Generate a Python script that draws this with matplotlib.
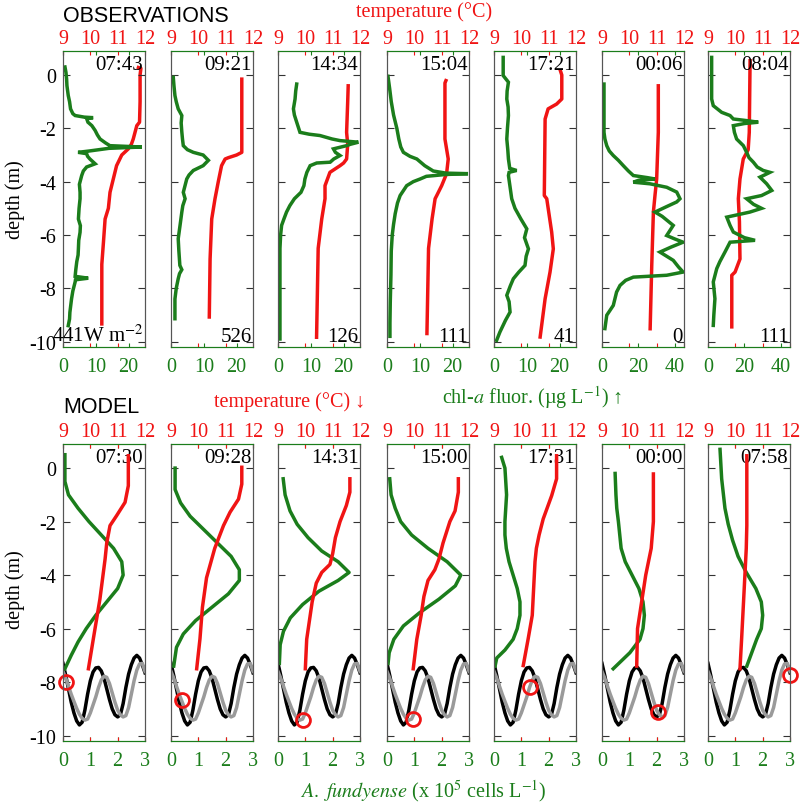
import matplotlib
matplotlib.use('Agg')
import matplotlib.pyplot as plt

plt.rcParams['font.family'] = ['Liberation Serif', 'DejaVu Serif']
plt.rcParams['mathtext.fontset'] = 'stix'
plt.rcParams['axes.unicode_minus'] = False

GREEN = '#1b7d1b'
RED = '#f01414'
SPINE = '#555555'

# ---------------- data ----------------
obs_times = ['07:43', '09:21', '14:34', '15:04', '17:21', '00:06', '08:04']
obs_irr = ['441W m$^{-2}$', '526', '126', '111', '41', '0', '111']
model_times = ['07:30', '09:28', '14:31', '15:00', '17:31', '00:00', '07:58']
chl_max = [25, 25, 25, 25, 25, 45, 45]
chl_ticks = [[0, 10, 20]] * 5 + [[0, 20, 40]] * 2
temp_ticks = [9, 10, 11, 12]
depth_ticks = [0, -2, -4, -6, -8, -10]
cell_ticks = [0, 1, 2, 3]

# observed chl-a (depth m, ug/L)
obs1_chl = [(0.3,0.6),(0.1,0.9),(-0.15,1.1),(-0.4,1.2),(-0.77,1.6),(-1.0,2.0),(-1.27,2.3),(-1.45,3.0),(-1.52,3.7),(-1.58,6.5),(-1.6,9.2),(-1.63,7.2),(-1.77,7.6),(-1.9,8.8),(-2.08,9.8),(-2.25,10.5),(-2.4,11.3),(-2.55,13.0),(-2.65,14.3),(-2.7,24.0),(-2.75,14.0),(-2.85,8.0),(-2.9,4.6),(-2.95,7.2),(-3.05,7.5),(-3.15,8.2),(-3.33,9.8),(-3.45,7.2),(-3.6,6.2),(-3.77,5.7),(-4.1,5.0),(-4.4,5.2),(-4.64,5.2),(-5.0,4.9),(-5.4,4.7),(-5.65,5.3),(-5.9,5.2),(-6.2,4.8),(-6.5,4.7),(-6.75,4.6),(-7.0,4.2),(-7.3,3.9),(-7.55,3.7),(-7.62,7.7),(-7.68,3.8),(-7.76,3.7),(-8.1,3.0),(-8.4,2.6),(-8.9,2.1),(-9.15,2.0),(-9.4,1.6)]
obs2_chl = [(-0.09,0.7),(-0.4,0.9),(-0.77,1.2),(-1.0,1.6),(-1.27,2.2),(-1.52,3.3),(-1.8,3.1),(-2.14,3.3),(-2.4,3.5),(-2.65,3.75),(-2.8,5.0),(-2.9,6.8),(-3.0,9.8),(-3.2,11.4),(-3.4,9.8),(-3.58,6.8),(-3.75,5.5),(-3.9,4.8),(-4.4,3.75),(-4.64,4.3),(-4.9,3.6),(-5.14,3.3),(-5.6,2.8),(-6.14,2.2),(-6.6,2.4),(-7.14,2.7),(-7.3,3.3),(-7.45,2.6),(-7.64,2.2),(-8.0,1.6),(-8.4,1.2),(-9.14,1.2)]
obs3_chl = [(-0.34,5.7),(-0.6,5.4),(-0.9,5.2),(-1.27,4.7),(-1.5,5.0),(-1.77,5.7),(-2.15,6.7),(-2.22,9.5),(-2.27,12.8),(-2.4,16.5),(-2.46,18.9),(-2.52,24.5),(-2.6,22.0),(-2.65,20.9),(-2.77,16.9),(-2.9,17.5),(-3.02,18.9),(-3.15,17.0),(-3.27,15.9),(-3.3,11.8),(-3.4,9.8),(-3.65,8.8),(-3.9,8.2),(-4.15,7.9),(-4.4,7.0),(-4.64,5.0),(-4.9,3.6),(-5.14,2.6),(-5.4,1.8),(-5.64,1.1),(-6.0,0.8),(-6.5,0.6),(-8.0,0.6),(-9.9,0.6)]
obs4_chl = [(-0.05,0.3),(-0.5,0.8),(-1.0,1.3),(-1.5,2.0),(-2.0,3.0),(-2.4,3.6),(-2.7,4.2),(-2.9,5.0),(-3.05,7.0),(-3.15,9.1),(-3.4,11.5),(-3.6,14.1),(-3.68,18.0),(-3.7,24.7),(-3.73,18.0),(-3.8,12.0),(-3.9,10.1),(-4.0,8.0),(-4.15,6.0),(-4.52,4.0),(-4.8,3.2),(-5.2,2.5),(-5.6,2.0),(-6.0,1.6),(-6.6,1.3),(-7.5,1.2),(-8.5,1.0),(-9.3,0.9),(-9.8,0.9)]
obs5_chl = [(0.66,2.8),(0.3,2.8),(-0.02,2.8),(-0.27,4.4),(-0.6,4.0),(-0.9,3.9),(-1.2,4.3),(-1.52,4.4),(-2.0,4.1),(-2.4,3.9),(-2.8,4.2),(-3.15,4.4),(-3.5,4.8),(-3.58,6.9),(-3.65,4.6),(-3.77,4.4),(-4.2,4.9),(-4.64,5.4),(-5.0,6.4),(-5.4,8.2),(-5.77,10.0),(-6.1,9.3),(-6.52,10.5),(-6.8,9.8),(-7.14,9.45),(-7.4,7.5),(-7.64,5.9),(-7.9,5.0),(-8.26,3.9),(-8.5,4.6),(-8.89,4.9),(-9.2,3.5),(-9.64,1.8),(-9.95,0.8)]
obs6_chl = [(-0.34,1.1),(-1.0,1.1),(-2.15,1.1),(-2.4,1.6),(-2.65,2.6),(-2.85,4.0),(-3.02,6.2),(-3.2,9.0),(-3.4,11.7),(-3.6,14.5),(-3.77,17.2),(-3.85,25.0),(-3.9,29.1),(-3.95,20.0),(-4.02,17.2),(-4.08,26.3),(-4.21,35.5),(-4.39,41.0),(-4.64,42.8),(-4.76,41.0),(-4.95,35.0),(-5.14,29.1),(-5.3,33.0),(-5.64,39.1),(-6.02,35.5),(-6.15,40.0),(-6.27,44.5),(-6.45,38.0),(-6.64,31.8),(-6.95,39.1),(-7.2,42.0),(-7.39,44.5),(-7.51,35.5),(-7.58,17.2),(-7.7,13.0),(-7.89,9.9),(-8.14,8.0),(-8.64,6.2),(-9.01,2.6),(-9.51,1.6)]
obs7_chl = [(0.66,2.0),(0.0,2.0),(-0.9,2.0),(-1.15,2.9),(-1.4,7.5),(-1.52,12.1),(-1.65,13.9),(-1.7,20.0),(-1.77,27.6),(-1.82,20.0),(-1.9,13.9),(-2.15,14.5),(-2.4,15.7),(-2.65,19.4),(-2.9,21.2),(-3.1,22.5),(-3.27,24.9),(-3.45,27.0),(-3.58,30.3),(-3.65,34.0),(-3.75,31.0),(-3.83,28.5),(-4.08,32.2),(-4.33,35.0),(-4.52,29.4),(-4.64,21.2),(-4.85,25.0),(-5.0,29.4),(-5.14,23.0),(-5.33,10.3),(-5.64,12.1),(-5.89,13.9),(-6.1,20.0),(-6.2,25.8),(-6.27,12.1),(-6.64,9.3),(-7.0,6.5),(-7.26,4.8),(-7.76,2.9),(-8.39,3.8),(-9.0,3.2),(-9.39,2.9)]

# observed temperature (depth m, deg C)
obs1_temp = [(0.3,11.70),(0.25,11.85),(0.0,11.82),(-1.0,11.82),(-1.77,11.80),(-1.9,11.70),(-2.4,11.57),(-2.6,11.50),(-2.77,11.39),(-3.0,11.15),(-3.4,10.96),(-3.9,10.84),(-4.4,10.72),(-5.0,10.66),(-5.4,10.54),(-6.27,10.48),(-7.1,10.42),(-9.4,10.42)]
obs2_temp = [(-0.09,11.59),(-2.9,11.59),(-3.0,11.40),(-3.1,11.10),(-3.15,10.98),(-3.4,10.85),(-4.0,10.73),(-4.64,10.61),(-5.4,10.49),(-6.9,10.43),(-9.14,10.40)]
obs3_temp = [(-0.34,11.57),(-1.0,11.55),(-2.15,11.51),(-2.6,11.55),(-3.15,11.51),(-3.3,11.40),(-3.4,11.27),(-3.65,10.90),(-4.15,10.72),(-4.64,10.72),(-5.4,10.60),(-6.5,10.47),(-9.9,10.41)]
obs4_temp = [(-0.15,11.18),(-0.3,11.12),(-2.4,11.12),(-3.15,11.24),(-3.7,11.18),(-4.15,11.00),(-4.52,10.82),(-4.64,10.76),(-5.39,10.65),(-6.5,10.52),(-9.76,10.46)]
obs5_temp = [(0.22,11.41),(0.0,11.48),(-0.9,11.48),(-1.09,11.29),(-1.27,10.98),(-1.65,10.87),(-4.52,10.84),(-4.64,10.93),(-5.89,11.11),(-6.52,11.17),(-7.39,11.05),(-8.39,10.87),(-9.89,10.68)]
obs6_temp = [(-0.34,11.06),(-2.15,11.06),(-3.9,11.00),(-4.5,10.94),(-5.14,10.88),(-7.14,10.82),(-9.58,10.76)]
obs7_temp = [(0.6,10.54),(-2.15,10.51),(-2.8,10.47),(-3.15,10.29),(-3.9,10.17),(-4.64,10.11),(-5.5,10.15),(-6.9,10.17),(-7.39,9.99),(-7.51,9.87),(-9.51,9.87)]

# model A. fundyense (depth m, 1e5 cells/L)
mod1_cells = [(0.5,0.07),(-0.5,0.07),(-1.0,0.2),(-1.5,0.55),(-2.0,0.95),(-2.5,1.4),(-3.0,1.85),(-3.5,2.15),(-4.0,2.2),(-4.5,2.0),(-5.0,1.6),(-5.5,1.2),(-6.0,0.85),(-6.5,0.55),(-7.0,0.3),(-7.5,0.07)]
mod2_cells = [(0.0,0.15),(-0.8,0.15),(-1.3,0.35),(-1.8,0.7),(-2.3,1.2),(-2.8,1.7),(-3.3,2.2),(-3.8,2.5),(-4.2,2.5),(-4.7,2.1),(-5.2,1.5),(-5.7,0.9),(-6.2,0.45),(-6.7,0.2),(-7.4,0.1)]
mod3_cells = [(-0.4,0.19),(-1.0,0.26),(-1.6,0.44),(-2.1,0.7),(-2.6,1.1),(-3.1,1.6),(-3.5,2.2),(-3.9,2.6),(-4.2,2.2),(-4.6,1.5),(-5.1,0.9),(-5.6,0.45),(-6.1,0.2),(-6.6,0.08),(-7.3,0.05)]
mod4_cells = [(-0.4,0.1),(-1.0,0.15),(-1.5,0.3),(-2.0,0.5),(-2.5,0.9),(-3.0,1.5),(-3.5,2.2),(-4.0,2.7),(-4.4,2.5),(-4.9,1.9),(-5.4,1.2),(-5.9,0.6),(-6.4,0.25),(-6.9,0.08),(-7.3,0.04)]
mod5_cells = [(0.4,0.28),(0.0,0.4),(-1.0,0.46),(-2.0,0.4),(-2.5,0.4),(-3.0,0.45),(-3.5,0.55),(-4.0,0.7),(-4.5,0.85),(-5.0,0.95),(-5.5,0.95),(-6.0,0.85),(-6.4,0.7),(-6.8,0.4),(-7.1,0.1),(-7.4,0.04)]
mod6_cells = [(-0.2,0.48),(-1.0,0.51),(-1.5,0.54),(-2.0,0.6),(-2.5,0.65),(-3.0,0.7),(-3.5,0.85),(-4.0,1.1),(-4.5,1.35),(-5.0,1.5),(-5.5,1.55),(-6.0,1.5),(-6.4,1.39),(-6.9,1.02),(-7.5,0.41)]
mod7_cells = [(0.7,0.44),(-0.4,0.5),(-1.5,0.62),(-2.1,0.74),(-2.7,0.9),(-3.3,1.1),(-3.9,1.4),(-4.5,1.75),(-5.0,1.95),(-5.5,2.0),(-6.0,1.95),(-6.4,1.78),(-7.4,1.42)]

# model temperature (depth m, deg C)
mod1_temp = [(0.46,11.39),(-0.66,11.39),(-1.28,11.27),(-1.78,10.96),(-2.15,10.72),(-2.8,10.6),(-3.4,10.54),(-4.9,10.35),(-6.38,10.11),(-7.5,9.93)]
mod2_temp = [(0.03,11.59),(-0.6,11.59),(-1.16,11.47),(-1.65,11.16),(-2.15,10.92),(-3.0,10.6),(-4.1,10.3),(-5.2,10.15),(-6.38,10.06),(-7.5,9.94)]
mod3_temp = [(-0.4,11.63),(-0.9,11.63),(-1.4,11.5),(-2.0,11.27),(-2.6,11.1),(-3.2,11.0),(-3.6,10.9),(-3.9,10.6),(-4.3,10.4),(-5.0,10.25),(-5.7,10.15),(-6.4,10.05),(-7.5,10.0)]
mod4_temp = [(-0.4,11.61),(-0.9,11.61),(-1.6,11.49),(-2.0,11.3),(-2.8,11.05),(-3.4,10.9),(-3.8,10.75),(-4.2,10.5),(-4.8,10.35),(-5.5,10.25),(-6.4,10.09),(-7.5,9.96)]
mod5_temp = [(0.46,11.29),(-0.4,11.29),(-1.03,11.11),(-1.9,10.8),(-2.5,10.65),(-3.0,10.55),(-3.5,10.5),(-4.5,10.45),(-5.5,10.4),(-6.38,10.25),(-7.38,10.07)]
mod6_temp = [(-0.22,10.88),(-2.0,10.88),(-3.0,10.8),(-4.0,10.6),(-5.0,10.45),(-6.0,10.3),(-7.4,10.27)]
mod7_temp = [(0.46,10.42),(-2.15,10.42),(-3.0,10.4),(-4.0,10.35),(-5.0,10.3),(-6.38,10.23),(-7.5,10.17)]

# tide-driven depth traces (x in 0-3 axis units, depth m)
tide_x = [0.0,0.1,0.2,0.3,0.4,0.5,0.6,0.7,0.8,0.9,1.0,1.1,1.2,1.3,1.4,1.5,1.6,1.7,1.8,1.9,2.0,2.1,2.2,2.3,2.4,2.5,2.6,2.7,2.8,2.9,3.0]
tide_black = [-7.3,-7.75,-8.25,-8.75,-9.15,-9.45,-9.6,-9.5,-9.05,-8.45,-7.95,-7.62,-7.47,-7.45,-7.58,-7.85,-8.25,-8.65,-9.0,-9.22,-9.3,-9.22,-8.8,-8.2,-7.7,-7.35,-7.1,-7.0,-7.1,-7.35,-7.65]
tide_grey = [-7.6,-7.85,-8.15,-8.45,-8.72,-8.98,-9.2,-9.35,-9.42,-9.38,-9.15,-8.85,-8.55,-8.2,-7.92,-7.78,-7.82,-8.05,-8.4,-8.75,-9.05,-9.22,-9.3,-9.25,-8.95,-8.45,-7.95,-7.55,-7.32,-7.3,-7.6]
circle_x = [0.12, 0.39, 0.93, 0.96, 1.32, 2.06, 3.0]
circle_depth = [-8.0, -8.68, -9.43, -9.37, -8.18, -9.12, -7.75]

obs_chl = [obs1_chl, obs2_chl, obs3_chl, obs4_chl, obs5_chl, obs6_chl, obs7_chl]
obs_temp = [obs1_temp, obs2_temp, obs3_temp, obs4_temp, obs5_temp, obs6_temp, obs7_temp]
mod_cells = [mod1_cells, mod2_cells, mod3_cells, mod4_cells, mod5_cells, mod6_cells, mod7_cells]
mod_temp = [mod1_temp, mod2_temp, mod3_temp, mod4_temp, mod5_temp, mod6_temp, mod7_temp]

# ---------------- layout ----------------
W, H = 800, 804
lefts = [63, 171, 278, 387, 494, 602, 708]
pw = 82
rows = {'obs': (52, 348), 'mod': (445, 742)}
YLIM = (-10.2, 0.9)
TICK_FS = 14.5
SERIF = ['Liberation Serif', 'DejaVu Serif']

fig = plt.figure(figsize=(W / 100, H / 100), dpi=100)


def unzip(pairs):
    d = [p[0] for p in pairs]
    v = [p[1] for p in pairs]
    return d, v


def labels(vals):
    return [str(v) for v in vals]


def make_axes(i, row):
    top, bot = rows[row]
    ax = fig.add_axes([lefts[i] / W, 1 - bot / H, pw / W, (bot - top) / H])
    ax2 = ax.twiny()
    for a in (ax, ax2):
        for s in ('top', 'bottom'):
            a.spines[s].set_color(GREEN)
        for s in ('left', 'right'):
            a.spines[s].set_color(SPINE)
    ax.set_ylim(*YLIM)
    ax.set_yticks(depth_ticks)
    ax.set_yticklabels(labels(depth_ticks), family=SERIF)
    ax.tick_params(axis='y', direction='in', left=True, right=True, length=5,
                   labelsize=TICK_FS, labelleft=(i == 0), pad=5, color='#333333')
    ax.tick_params(axis='x', direction='in', bottom=True, top=True, length=3,
                   colors=GREEN, labelsize=TICK_FS, pad=7)
    ax2.set_xlim(9, 12)
    ax2.set_xticks(temp_ticks)
    ax2.set_xticklabels(labels(temp_ticks), family=SERIF)
    ax2.tick_params(axis='x', direction='in', bottom=True, top=True, length=3,
                    colors=RED, labelsize=TICK_FS, pad=2)
    return ax, ax2


for i in range(7):
    ax, ax2 = make_axes(i, 'obs')
    ax.set_zorder(ax2.get_zorder() + 1)
    ax.patch.set_visible(False)
    ax.set_xlim(0, chl_max[i])
    ax.set_xticks(chl_ticks[i])
    ax.set_xticklabels(labels(chl_ticks[i]), family=SERIF)
    d, v = unzip(obs_temp[i])
    ax2.plot(v, d, color=RED, lw=2.5, solid_capstyle='butt')
    d, v = unzip(obs_chl[i])
    ax.plot(v, d, color=GREEN, lw=2.5, solid_joinstyle='miter')
    ax.text(0.98, 0.985, obs_times[i], transform=ax.transAxes, ha='right', va='top',
            fontsize=15, zorder=10)
    ax.text(0.985, 0.005, obs_irr[i], transform=ax.transAxes, ha='right', va='bottom',
            fontsize=15, zorder=10)

for i in range(7):
    ax, ax2 = make_axes(i, 'mod')
    ax.set_xlim(0, 3)
    ax.set_xticks(cell_ticks)
    ax.set_xticklabels(labels(cell_ticks), family=SERIF)
    ax.plot(tide_x, tide_black, color='black', lw=2.5)
    ax.plot(tide_x, tide_grey, color='#9a9a9a', lw=2.5)
    d, v = unzip(mod_cells[i])
    ax.plot(v, d, color=GREEN, lw=2.5)
    ax.plot([circle_x[i]], [circle_depth[i]], 'o', mfc='none', mec=RED, ms=10,
            mew=2, clip_on=False, zorder=5)
    d, v = unzip(mod_temp[i])
    ax2.plot(v, d, color=RED, lw=2.5)
    ax.text(0.98, 0.985, model_times[i], transform=ax.transAxes, ha='right', va='top',
            fontsize=15, zorder=10)


def ftext(x, y, s, **kw):
    fig.text(x / W, 1 - y / H, s, **kw)


ftext(63, 16, 'OBSERVATIONS', family='Liberation Sans', fontsize=15.5, va='center', ha='left')
ftext(424, 12, 'temperature (°C)', color=RED, fontsize=14.5, va='center', ha='center')
ftext(15, 200, 'depth (m)', fontsize=14.5, rotation=90, va='center', ha='center')
ftext(63, 408, 'MODEL', family='Liberation Sans', fontsize=15.5, va='center', ha='left')
ftext(290, 402, 'temperature (°C) ↓', color=RED, fontsize=14.5, va='center', ha='center')
ftext(532, 398, 'chl-$a$ fluor. (µg L$^{-1}$) ↑', color=GREEN, fontsize=14.5, va='center', ha='center')
ftext(15, 590, 'depth (m)', fontsize=14.5, rotation=90, va='center', ha='center')
ftext(423, 792, r'$\it{A.\ fundyense}$ (x 10$^5$ cells L$^{-1}$)', color=GREEN, fontsize=14.5,
      va='center', ha='center')

fig.savefig('out.png', dpi=100)
